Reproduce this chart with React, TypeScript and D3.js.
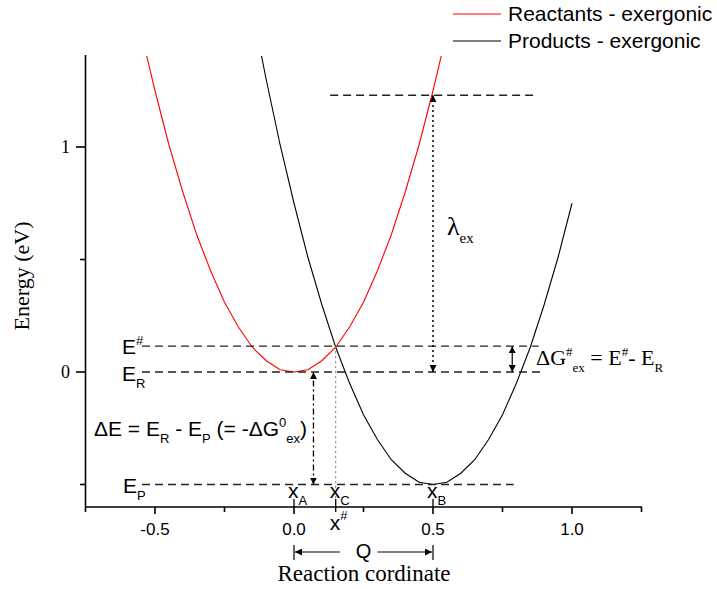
import React from "react";
import * as d3 from "d3";

const reactX = [-0.55, -0.5, -0.45, -0.4, -0.35, -0.3, -0.25, -0.2, -0.15, -0.1, -0.05, 0, 0.05, 0.1, 0.15, 0.2, 0.25, 0.3, 0.35, 0.4, 0.45, 0.5, 0.55];
const reactE = [1.51, 1.25, 1.01, 0.8, 0.61, 0.45, 0.31, 0.2, 0.11, 0.05, 0.01, 0, 0.01, 0.05, 0.11, 0.2, 0.31, 0.45, 0.61, 0.8, 1.01, 1.25, 1.51];
const prodX = [-0.15, -0.1, -0.05, 0, 0.05, 0.1, 0.15, 0.2, 0.25, 0.3, 0.35, 0.4, 0.45, 0.5, 0.55, 0.6, 0.65, 0.7, 0.75, 0.8, 0.85, 0.9, 0.95, 1.0];
const prodE = [1.61, 1.3, 1.01, 0.75, 0.51, 0.3, 0.11, -0.05, -0.19, -0.3, -0.39, -0.45, -0.49, -0.5, -0.49, -0.45, -0.39, -0.3, -0.19, -0.05, 0.11, 0.3, 0.51, 0.75];

const xTicks = [-0.5, 0, 0.5, 1.0];
const xTickLabels = ["-0.5", "0.0", "0.5", "1.0"];
const xMinor = [-0.75, -0.25, 0.25, 0.75, 1.25];
const yTicks = [0, 1];
const yTickLabels = ["0", "1"];
const yMinor = [-0.5, 0.5];

// energy levels and positions used by the annotations
const E_TS = 0.115;
const E_R = 0;
const E_P = -0.5;
const LAMBDA = 1.23;
const X_A = 0;
const X_C = 0.15;
const X_B = 0.5;

const W = 717;
const H = 589;

const x = d3.scaleLinear().domain([-0.75, 1.25]).range([85.5, 641.5]);
const y = d3.scaleLinear().domain([-0.6, 1.4]).range([507, 57]);

const line = d3
  .line<[number, number]>()
  .x((d) => x(d[0]))
  .y((d) => y(d[1]));

const sans = "'Liberation Sans', Arial, sans-serif";
const serif = "'Liberation Serif', 'Times New Roman', serif";

function Arrow({ x1, y1, x2, y2, dash, both = true, width = 1.3 }: any) {
  return (
    <line
      x1={x1}
      y1={y1}
      x2={x2}
      y2={y2}
      stroke="#000"
      strokeWidth={width}
      strokeDasharray={dash}
      markerEnd="url(#ah)"
      markerStart={both ? "url(#ahs)" : undefined}
    />
  );
}

export default function App() {
  const red = reactX.map((v, i) => [v, reactE[i]] as [number, number]);
  const black = prodX.map((v, i) => [v, prodE[i]] as [number, number]);
  const dash = "8,5";

  return (
    <svg width={W} height={H} style={{ display: "block", position: "absolute", left: 0, top: 0 }}>
      <defs>
        <clipPath id="plot">
          <rect x={85.5} y={56} width={560} height={451} />
        </clipPath>
        <marker id="ah" viewBox="0 0 10 10" refX="10" refY="5" markerWidth="7" markerHeight="7" markerUnits="userSpaceOnUse" orient="auto">
          <path d="M0,0 L10,5 L0,10 z" fill="#000" />
        </marker>
        <marker id="ahs" viewBox="0 0 10 10" refX="0" refY="5" markerWidth="7" markerHeight="7" markerUnits="userSpaceOnUse" orient="auto">
          <path d="M10,0 L0,5 L10,10 z" fill="#000" />
        </marker>
      </defs>
      <rect width={W} height={H} fill="#fff" />

      {/* curves */}
      <g clipPath="url(#plot)" fill="none">
        <path d={line(red) || ""} stroke="#ff0000" strokeWidth={1.1} />
        <path d={line(black) || ""} stroke="#000" strokeWidth={1.1} />
      </g>

      {/* dashed energy levels */}
      <g stroke="#222" strokeWidth={1.4} strokeDasharray={dash}>
        <line x1={x(0.13)} x2={x(0.86)} y1={y(LAMBDA)} y2={y(LAMBDA)} />
        <line x1={142} x2={x(0.88)} y1={y(E_TS)} y2={y(E_TS)} />
        <line x1={142} x2={x(0.9)} y1={y(E_R)} y2={y(E_R)} />
        <line x1={142} x2={x(0.79)} y1={y(E_P)} y2={y(E_P)} />
      </g>
      <line x1={x(X_C)} x2={x(X_C)} y1={y(E_TS)} y2={507} stroke="#777" strokeWidth={1} strokeDasharray="2,3" />

      {/* arrows */}
      <Arrow x1={x(X_B)} y1={y(E_R)} x2={x(X_B)} y2={y(LAMBDA)} dash="2,3" width={1.5} />
      <Arrow x1={x(0.785)} y1={y(E_R)} x2={x(0.785)} y2={y(E_TS)} width={1.2} />
      <Arrow x1={x(0.07)} y1={y(E_P)} x2={x(0.07)} y2={y(E_R)} dash="6,3,2,3" width={1.3} />

      {/* axes */}
      <g stroke="#000" strokeWidth={1.6} fill="none">
        <line x1={85.5} x2={85.5} y1={55} y2={507.8} />
        <line x1={85} x2={642} y1={507} y2={507} />
        {xTicks.map((t) => (
          <line key={"xt" + t} x1={x(t)} x2={x(t)} y1={507} y2={514} />
        ))}
        {xMinor.map((t) => (
          <line key={"xm" + t} x1={x(t)} x2={x(t)} y1={507} y2={512} />
        ))}
        {yTicks.map((t) => (
          <line key={"yt" + t} x1={76} x2={85.5} y1={y(t)} y2={y(t)} />
        ))}
        {yMinor.map((t) => (
          <line key={"ym" + t} x1={80} x2={85.5} y1={y(t)} y2={y(t)} />
        ))}
        {[X_A, X_C, X_B].map((t) => (
          <line key={"xp" + t} x1={x(t)} x2={x(t)} y1={499} y2={507} strokeWidth={1.3} />
        ))}
        <line x1={x(X_C)} x2={x(X_C)} y1={507} y2={512} strokeWidth={1.3} />
      </g>

      {/* tick labels */}
      <g fontFamily={sans} fontSize={17} textAnchor="middle" fill="#000">
        {xTicks.map((t, i) => (
          <text key={"xl" + t} x={x(t)} y={535}>
            {xTickLabels[i]}
          </text>
        ))}
      </g>
      <g fontFamily={serif} fontSize={18} textAnchor="end" fill="#000">
        {yTicks.map((t, i) => (
          <text key={"yl" + t} x={70} y={y(t) + 6}>
            {yTickLabels[i]}
          </text>
        ))}
      </g>

      {/* axis titles */}
      <text x={364} y={581} fontFamily={serif} fontSize={23} textAnchor="middle">
        Reaction cordinate
      </text>
      <text transform="translate(29,276) rotate(-90)" fontFamily={serif} fontSize={22} textAnchor="middle">
        Energy (eV)
      </text>

      {/* level labels */}
      <g fontFamily={sans} fontSize={21} fill="#000">
        <text x={122} y={y(E_TS) + 8}>
          E<tspan fontSize={13} dy={-9}>#</tspan>
        </text>
        <text x={122} y={y(E_R) + 9}>
          E<tspan fontSize={13} dy={7}>R</tspan>
        </text>
        <text x={123} y={y(E_P) + 8}>
          E<tspan fontSize={13} dy={7}>P</tspan>
        </text>
        <text x={94} y={436}>
          ΔE = E<tspan fontSize={13} dy={7}>R</tspan>
          <tspan dy={-7}> - E</tspan>
          <tspan fontSize={13} dy={7}>P</tspan>
          <tspan dy={-7}> (= -ΔG</tspan>
          <tspan fontSize={13} dy={-9}>0</tspan>
          <tspan fontSize={13} dy={16}>ex</tspan>
          <tspan dy={-7}>)</tspan>
        </text>
        <text x={x(X_A) - 6} y={498}>
          x<tspan fontSize={13} dy={7}>A</tspan>
        </text>
        <text x={x(X_C) - 6} y={498}>
          x<tspan fontSize={13} dy={7}>C</tspan>
        </text>
        <text x={x(X_C) - 6} y={530}>
          x<tspan fontSize={13} dy={-10}>#</tspan>
        </text>
        <text x={x(X_B) - 6} y={498}>
          x<tspan fontSize={13} dy={7}>B</tspan>
        </text>
      </g>

      {/* Q distance */}
      <g stroke="#000" strokeWidth={1.2}>
        <line x1={x(X_A)} x2={x(X_A)} y1={545} y2={560} />
        <line x1={x(X_B)} x2={x(X_B)} y1={545} y2={560} />
      </g>
      <Arrow x1={x(0.165)} y1={552} x2={x(X_A) + 1} y2={552} both={false} width={1.2} />
      <Arrow x1={x(0.3)} y1={552} x2={x(X_B) - 1} y2={552} both={false} width={1.2} />
      <text x={x(0.25)} y={558} fontFamily={sans} fontSize={20} textAnchor="middle">
        Q
      </text>

      {/* lambda and ΔG# */}
      <text x={447} y={235} fontFamily={serif} fontSize={26}>
        λ<tspan fontSize={15} dy={8}>ex</tspan>
      </text>
      <text x={536} y={365} fontFamily={serif} fontSize={22}>
        ΔG<tspan fontSize={13} dy={-9}>#</tspan>
        <tspan fontSize={13} dy={16}>ex</tspan>
        <tspan dy={-7}> = E</tspan>
        <tspan fontSize={13} dy={-9}>#</tspan>
        <tspan dy={9}>- E</tspan>
        <tspan fontSize={13} dy={7}>R</tspan>
      </text>

      {/* legend */}
      <line x1={453} x2={501} y1={14} y2={14} stroke="#ff0000" strokeWidth={1.2} />
      <line x1={453} x2={501} y1={41} y2={41} stroke="#000" strokeWidth={1.2} />
      <g fontFamily={sans} fontSize={21}>
        <text x={508} y={21}>Reactants - exergonic</text>
        <text x={508} y={48}>Products - exergonic</text>
      </g>
    </svg>
  );
}
